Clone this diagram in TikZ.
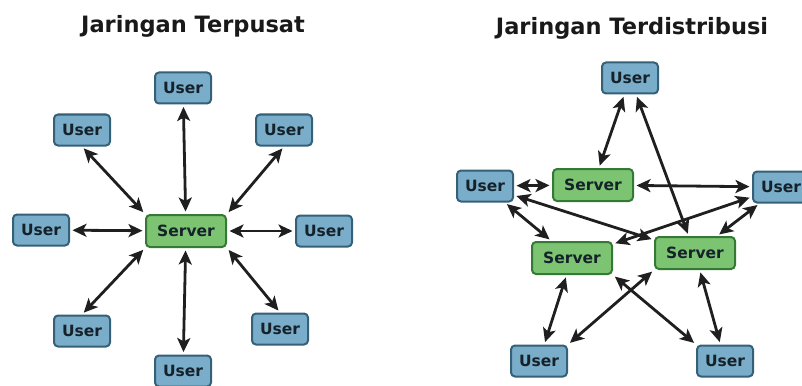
\documentclass[tikz,border=0pt]{standalone}
\usepackage{fontspec}
\setmainfont{DejaVu Sans}
\usetikzlibrary{arrows.meta}

\definecolor{userfill}{RGB}{122,173,202}
\definecolor{userdraw}{RGB}{52,96,120}
\definecolor{srvfill}{RGB}{124,196,114}
\definecolor{srvdraw}{RGB}{52,122,52}
\definecolor{txt}{RGB}{22,34,42}

\begin{document}
\begin{tikzpicture}[x=1pt,y=-1pt]
\tikzstyle{user} = [rectangle, draw=userdraw, line width=2pt, fill=userfill,
rounded corners=4pt, minimum width=56pt, minimum height=31pt, inner sep=0pt,
text=txt, font=\bfseries\fontsize{15.5}{15.5}\selectfont]
\tikzstyle{server} = [user, draw=srvdraw, fill=srvfill, minimum width=80pt, minimum height=32pt]
\tikzstyle{title} = [font=\bfseries\fontsize{22.5}{22.5}\selectfont, text=black!90]
\tikzstyle{line} = [draw=black!88, line width=2.8pt, >={Stealth[length=14pt,width=13pt,inset=3.5pt]}, <->,
shorten >=2.5pt, shorten <=2.5pt];

\useasboundingbox (0,0) rectangle (802,385);

% titles
\node [title] (tC) at (193,26) {Jaringan Terpusat};
\node [title] (tD) at (632,28) {Jaringan Terdistribusi};

% left: one server
\node [server] (cS) at (186,231) {Server};
\node [user] (cU1) at (183,88) {User};
\node [user] (cU2) at (82,130) {User};
\node [user] (cU3) at (284,130) {User};
\node [user] (cU4) at (41,230) {User};
\node [user] (cU5) at (324,231) {User};
\node [user] (cU6) at (82,331) {User};
\node [user] (cU7) at (280,329) {User};
\node [user] (cU8) at (183,371) {User};

% right: three servers
\node [user] (dU1) at (630,78) {User};
\node [user] (dU2) at (485,186) {User};
\node [server] (dS1) at (593,185) {Server};
\node [user] (dU3) at (781,187) {User};
\node [server] (dS2) at (572,258) {Server};
\node [server] (dS3) at (695,253) {Server};
\node [user] (dU4) at (539,361) {User};
\node [user] (dU5) at (725,361) {User};

\draw [line] (cU1) -- (cS);
\draw [line] (cU2.south) -- (cS.north west);
\draw [line] (cU3.south) -- (cS.north east);
\draw [line] (cU4) -- (cS);
\draw [line] (cS) -- (cU5);
\draw [line] (cU6.north) -- (cS.south west);
\draw [line] (cS.south east) -- (cU7.north);
\draw [line] (cS) -- (cU8);

\draw [line] (dU1) -- (dS1);
\draw [line] (dU1) -- (dS3);
\draw [line] (dU2) -- (dS1);
\draw [line] (dS1) -- (dU3);
\draw [line] (dU2) -- (dS2);
\draw [line] (dU2) -- (dS3);
\draw [line] (dU3) -- (dS2);
\draw [line] (dU3) -- (dS3);
\draw [line] (dS2) -- (dU4);
\draw [line] (dS2.south east) -- (dU5.north west);
\draw [line] (dS3.south west) -- (dU4.north east);
\draw [line] (dS3) -- (dU5);

\end{tikzpicture}
\end{document}
